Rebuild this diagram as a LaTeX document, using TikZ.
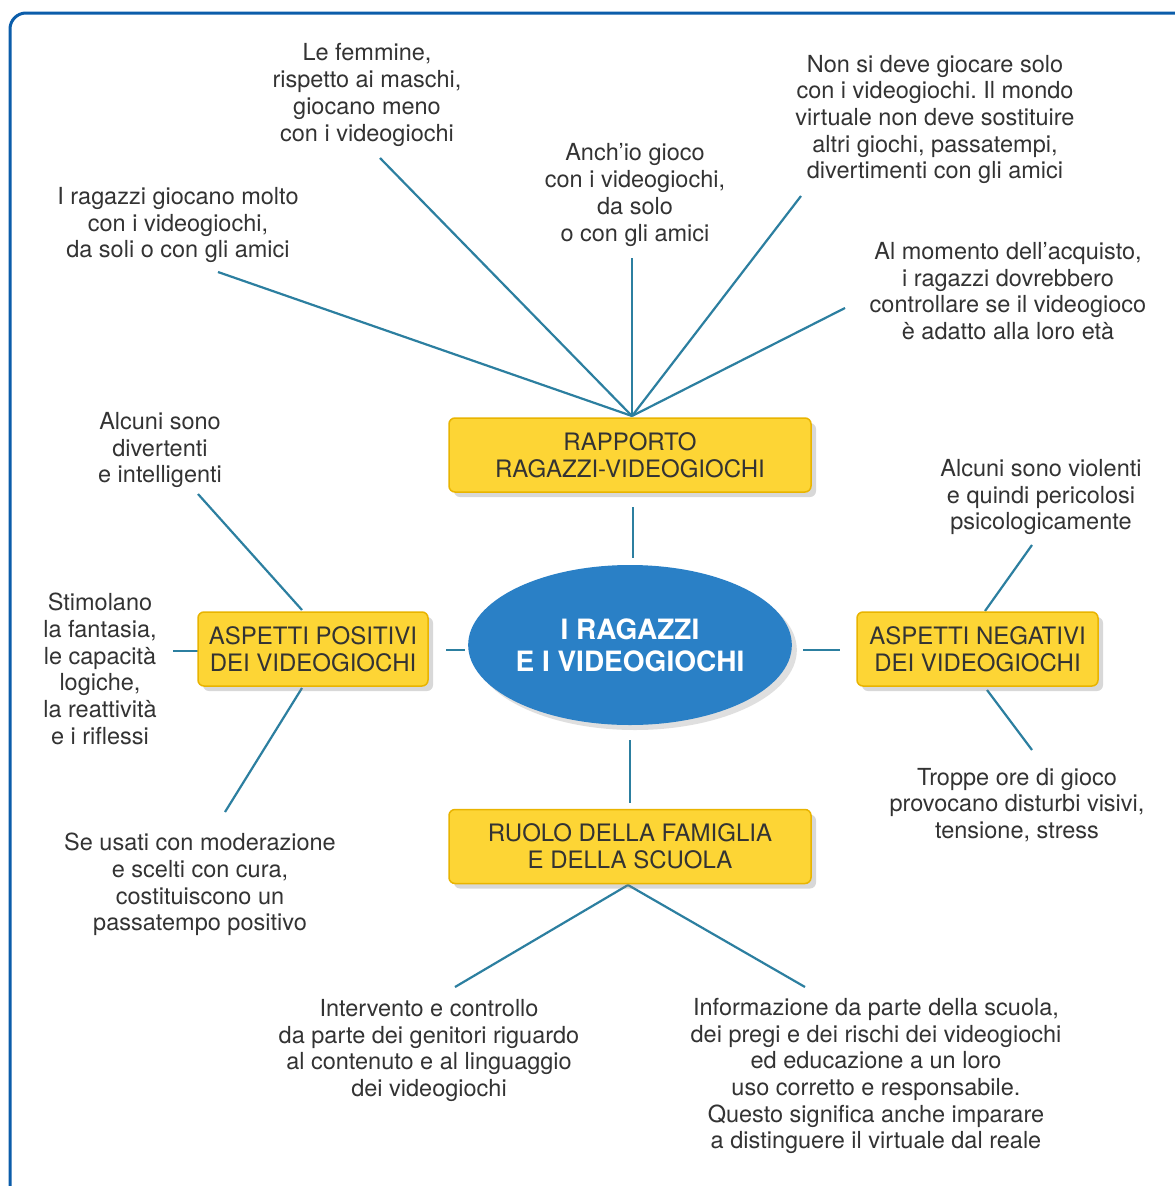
\documentclass[tikz,border=0pt]{standalone}
\usepackage{fontspec}
\setmainfont{TeX Gyre Heros}
\usetikzlibrary{shapes.geometric,shadows}
\definecolor{frameblue}{HTML}{0B5DAA}
\definecolor{linecol}{HTML}{2C7FA0}
\definecolor{boxfill}{HTML}{FDD535}
\definecolor{boxdraw}{HTML}{E9B400}
\definecolor{ellfill}{HTML}{2A80C6}
\definecolor{txt}{HTML}{333333}
\tikzset{
  conn/.style={draw=linecol, line width=2.2pt},
  label/.style={align=center, text=txt, inner sep=0pt, font=\fontsize{23.5}{26.7}\selectfont},
  ybox/.style={draw=boxdraw, fill=boxfill, line width=1.5pt, rounded corners=6pt,
     minimum height=74pt, align=center, text=txt, inner sep=0pt,
     font=\fontsize{24}{26.7}\selectfont,
     drop shadow={opacity=0.3, shadow xshift=5pt, shadow yshift=-5pt}},
  hub/.style={ellipse, fill=ellfill, minimum width=320pt, minimum height=160pt,
     align=center, text=white, inner sep=0pt, font=\bfseries\fontsize{28}{32}\selectfont,
     drop shadow={opacity=0.25, shadow xshift=5pt, shadow yshift=-5pt}}
}
\begin{document}
\frenchspacing
\begin{tikzpicture}[x=1pt,y=-1pt]
\useasboundingbox (0,0) rectangle (1175,1186);
\fill[white] (0,0) rectangle (1175,1186);
% frame
\draw[frameblue, line width=3pt, rounded corners=16pt] (10,1200) -- (10,13) -- (1200,13);

% text labels
\node[label] (t1) at (178,225) {I ragazzi giocano molto\\con i videogiochi,\\da soli o con gli amici};
\node[label] (t2) at (367,95) {Le femmine,\\rispetto ai maschi,\\giocano meno\\con i videogiochi};
\node[label] (t3) at (635,195) {Anch’io gioco\\con i videogiochi,\\da solo\\o con gli amici};
\node[label] (t4) at (935,119.5) {Non si deve giocare solo\\con i videogiochi. Il mondo\\virtuale non deve sostituire\\altri giochi, passatempi,\\divertimenti con gli amici};
\node[label] (t5) at (1008,291) {Al momento dell’acquisto,\\i ragazzi dovrebbero\\controllare se il videogioco\\è adatto alla loro età};
\node[label] (t6) at (160,450) {Alcuni sono\\divertenti\\e intelligenti};
\node[label] (t7) at (100,669) {Stimolano\\la fantasia,\\le capacità\\logiche,\\la reattività\\e i riflessi};
\node[label] (t8) at (200,884.5) {Se usati con moderazione\\e scelti con cura,\\costituiscono un\\passatempo positivo};
\node[label] (t9) at (1041,497) {Alcuni sono violenti\\e quindi pericolosi\\psicologicamente};
\node[label] (t10) at (1017,805) {Troppe ore di gioco\\provocano disturbi visivi,\\tensione, stress};
\node[label] (t11) at (429,1050.5) {Intervento e controllo\\da parte dei genitori riguardo\\al contenuto e al linguaggio\\dei videogiochi};
\node[label] (t12) at (876,1076) {Informazione da parte della scuola,\\dei pregi e dei rischi dei videogiochi\\ed educazione a un loro\\uso corretto e responsabile.\\Questo significa anche imparare\\a distinguere il virtuale dal reale};

% connector end points
\coordinate (hubT) at (632,416);
\coordinate (e1) at (218,272);
\coordinate (e2) at (380,158);
\coordinate (e3) at (632,258);
\coordinate (e4) at (801,196);
\coordinate (e5) at (845,308);
\coordinate (hubB) at (628,885);
\coordinate (e11) at (455,987);
\coordinate (e12) at (805,987);
\coordinate (p1) at (302,610);
\coordinate (e6) at (198,494);
\coordinate (p2) at (302,688);
\coordinate (e8) at (225,812);
\coordinate (p3) at (173,651);
\coordinate (p4) at (198,651);
\coordinate (n1) at (985,611);
\coordinate (e9) at (1032,545);
\coordinate (n2) at (987,690);
\coordinate (e10) at (1032,750);
\coordinate (c1) at (633,507);
\coordinate (c2) at (633,558);
\coordinate (c3) at (446,650);
\coordinate (c4) at (465,650);
\coordinate (c5) at (803,650);
\coordinate (c6) at (840,650);
\coordinate (c7) at (630,740);
\coordinate (c8) at (630,803);

% connectors
\draw[conn] (hubT) -- (e1);
\draw[conn] (hubT) -- (e2);
\draw[conn] (hubT) -- (e3);
\draw[conn] (hubT) -- (e4);
\draw[conn] (hubT) -- (e5);
\draw[conn] (hubB) -- (e11);
\draw[conn] (hubB) -- (e12);
\draw[conn] (p1) -- (e6);
\draw[conn] (p2) -- (e8);
\draw[conn] (p3) -- (p4);
\draw[conn] (n1) -- (e9);
\draw[conn] (n2) -- (e10);
\draw[conn] (c1) -- (c2);
\draw[conn] (c3) -- (c4);
\draw[conn] (c5) -- (c6);
\draw[conn] (c7) -- (c8);

% boxes
\node[ybox, minimum width=362pt] (rap) at (630,455) {RAPPORTO\\RAGAZZI-VIDEOGIOCHI};
\node[ybox, minimum width=230pt] (pos) at (313,649) {ASPETTI POSITIVI\\DEI VIDEOGIOCHI};
\node[ybox, minimum width=241pt] (neg) at (977.5,649) {ASPETTI NEGATIVI\\DEI VIDEOGIOCHI};
\node[ybox, minimum width=362pt] (ruo) at (630,846.5) {RUOLO DELLA FAMIGLIA\\E DELLA SCUOLA};

% central ellipse
\node[hub] (center) at (630,645) {I RAGAZZI\\E I VIDEOGIOCHI};
\end{tikzpicture}
\end{document}
